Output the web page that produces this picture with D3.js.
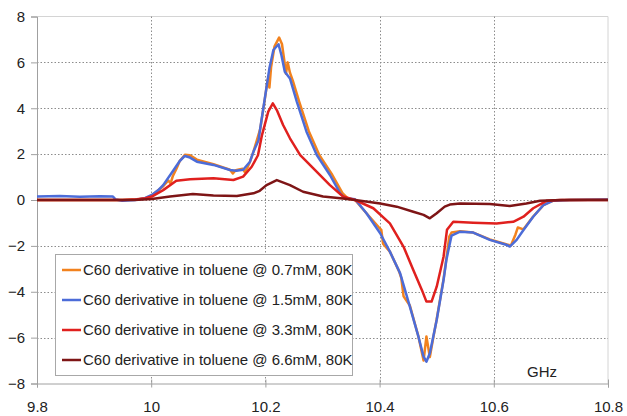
<!DOCTYPE html>
<html>
<head>
<meta charset="utf-8">
<script src="https://cdn.jsdelivr.net/npm/d3@7"></script>
<style>
  html, body { margin: 0; padding: 0; background: #fff; }
  svg { display: block; font-family: "Liberation Sans", Arial, sans-serif; }
</style>
</head>
<body>
<svg id="chart" width="627" height="416"></svg>
<script>
// Frequency (GHz) and signal readings, one [freq, value] list per sample
const freqTicks = [9.8, 10, 10.2, 10.4, 10.6, 10.8];
const valueTicks = [-8, -6, -4, -2, 0, 2, 4, 6, 8];

const seriesNames = [
  "C60 derivative in toluene @ 0.7mM, 80K",
  "C60 derivative in toluene @ 1.5mM, 80K",
  "C60 derivative in toluene @ 3.3mM, 80K",
  "C60 derivative in toluene @ 6.6mM, 80K"
];
const seriesColors = ["#F2821E", "#4C6CD8", "#E0201E", "#7E1516"];

const conc07 = [
  [9.8, 0], [9.95, 0], [9.975, 0.02], [9.99, 0.08], [10.001, 0.2], [10.021, 0.6],
  [10.030, 0.85], [10.034, 0.72], [10.038, 1.05], [10.044, 1.35], [10.050, 1.7],
  [10.059, 1.97], [10.068, 1.95], [10.080, 1.76], [10.109, 1.56], [10.138, 1.32],
  [10.143, 1.16], [10.148, 1.3], [10.160, 1.36], [10.164, 1.22], [10.168, 1.38],
  [10.173, 1.67], [10.179, 2.1], [10.191, 3.1], [10.199, 4.4], [10.204, 5.25],
  [10.207, 4.9], [10.210, 5.8], [10.216, 6.7], [10.224, 7.08], [10.229, 6.8],
  [10.233, 6.1], [10.236, 5.5], [10.239, 6.0], [10.243, 5.55], [10.248, 5.2],
  [10.259, 4.3], [10.276, 3.0], [10.294, 1.98], [10.317, 1.1], [10.335, 0.3],
  [10.345, 0.05], [10.357, 0.0], [10.377, -0.58], [10.399, -1.2], [10.403, -1.3],
  [10.406, -1.9], [10.418, -2.25], [10.434, -3.1], [10.438, -3.4], [10.442, -4.2],
  [10.453, -4.6], [10.468, -5.95], [10.477, -7.0], [10.482, -5.95], [10.488, -6.85],
  [10.494, -6.0], [10.500, -5.2], [10.512, -3.45], [10.517, -2.55], [10.522, -1.6],
  [10.526, -1.42], [10.541, -1.36], [10.564, -1.42], [10.593, -1.72], [10.623, -1.94],
  [10.630, -1.98], [10.638, -1.5], [10.642, -1.2], [10.652, -1.28], [10.669, -0.72],
  [10.687, -0.22], [10.704, -0.03], [10.733, 0.0], [10.8, 0.02]
];

const conc15 = [
  [9.8, 0.15], [9.84, 0.17], [9.875, 0.14], [9.91, 0.16], [9.933, 0.15], [9.938, 0.02],
  [9.949, -0.03], [9.972, 0.0], [9.989, 0.08], [10.001, 0.22], [10.012, 0.42],
  [10.021, 0.65], [10.039, 1.3], [10.050, 1.7], [10.059, 1.92], [10.068, 1.85],
  [10.080, 1.67], [10.109, 1.53], [10.138, 1.31], [10.149, 1.28], [10.161, 1.32],
  [10.173, 1.67], [10.179, 2.1], [10.188, 2.6], [10.191, 3.13], [10.199, 4.43],
  [10.207, 5.74], [10.214, 6.54], [10.223, 6.79], [10.228, 6.32], [10.234, 5.59],
  [10.243, 5.3], [10.255, 4.29], [10.272, 2.98], [10.290, 1.96], [10.313, 1.09],
  [10.331, 0.29], [10.339, 0.09], [10.357, 0.03], [10.377, -0.58], [10.401, -1.45],
  [10.418, -2.25], [10.436, -3.2], [10.453, -4.65], [10.468, -5.96], [10.477, -6.83],
  [10.482, -7.05], [10.488, -6.68], [10.500, -5.23], [10.512, -3.49], [10.517, -2.6],
  [10.526, -1.55], [10.541, -1.38], [10.564, -1.42], [10.593, -1.74], [10.623, -1.96],
  [10.628, -2.03], [10.640, -1.74], [10.652, -1.31], [10.669, -0.73], [10.687, -0.22],
  [10.704, -0.03], [10.733, 0.0], [10.8, 0.02]
];

const conc33 = [
  [9.8, 0], [9.95, 0], [9.975, 0.03], [9.99, 0.08], [10.001, 0.15], [10.021, 0.43],
  [10.044, 0.84], [10.068, 0.9], [10.109, 0.95], [10.144, 0.87], [10.161, 1.02],
  [10.176, 1.45], [10.187, 1.95], [10.194, 2.83], [10.205, 3.85], [10.213, 4.21],
  [10.220, 3.92], [10.231, 3.27], [10.243, 2.69], [10.261, 1.96], [10.284, 1.38],
  [10.313, 0.65], [10.336, 0.15], [10.357, 0.0], [10.389, -0.36], [10.418, -1.02],
  [10.442, -2.04], [10.459, -3.05], [10.474, -3.92], [10.482, -4.43], [10.491, -4.43],
  [10.500, -3.78], [10.512, -2.47], [10.518, -1.3], [10.529, -0.95], [10.564, -0.99],
  [10.605, -1.02], [10.634, -0.95], [10.652, -0.73], [10.669, -0.36], [10.693, -0.03],
  [10.716, 0], [10.8, 0]
];

const conc66 = [
  [9.8, 0], [9.97, 0], [10.001, 0.04], [10.033, 0.15], [10.073, 0.26], [10.109, 0.2],
  [10.150, 0.17], [10.179, 0.29], [10.190, 0.4], [10.202, 0.65], [10.220, 0.87],
  [10.243, 0.65], [10.266, 0.36], [10.301, 0.15], [10.336, 0.07], [10.357, 0.0],
  [10.401, -0.15], [10.430, -0.29], [10.459, -0.51], [10.477, -0.65], [10.488, -0.8],
  [10.500, -0.58], [10.514, -0.29], [10.523, -0.2], [10.541, -0.15], [10.593, -0.17],
  [10.628, -0.26], [10.657, -0.15], [10.681, -0.03], [10.72, 0], [10.8, 0]
];

const seriesData = [conc07, conc15, conc33, conc66];

const svg = d3.select("#chart");
const x = d3.scaleLinear().domain([9.8, 10.8]).range([37, 608]);
const y = d3.scaleLinear().domain([-8, 8]).range([383.5, 16.5]);

const gridColor = "#8c8c8c";
const axisColor = "#a0a0a0";
const fontSize = "15px";

// plot-area frame (top and right)
svg.append("line").attr("x1", x(9.8)).attr("x2", x(10.8)).attr("y1", y(8)).attr("y2", y(8))
  .attr("stroke", "#d4d4d4").attr("stroke-width", 1);
svg.append("line").attr("x1", x(10.8)).attr("x2", x(10.8)).attr("y1", y(8)).attr("y2", y(-8))
  .attr("stroke", "#d4d4d4").attr("stroke-width", 1);

// dotted gridlines
svg.append("g").selectAll("line")
  .data(valueTicks.filter(v => v > -8 && v < 8))
  .join("line")
  .attr("x1", x(9.8)).attr("x2", x(10.8))
  .attr("y1", d => Math.round(y(d)) + 0.5).attr("y2", d => Math.round(y(d)) + 0.5)
  .attr("stroke", gridColor).attr("stroke-width", 1).attr("stroke-dasharray", "1.5,2");
svg.append("g").selectAll("line")
  .data(freqTicks.filter(f => f > 9.8 && f < 10.8))
  .join("line")
  .attr("x1", d => Math.round(x(d)) + 0.5).attr("x2", d => Math.round(x(d)) + 0.5)
  .attr("y1", y(8)).attr("y2", y(-8))
  .attr("stroke", gridColor).attr("stroke-width", 1).attr("stroke-dasharray", "1.5,2");

// axes
const yAxis = d3.axisLeft(y).tickValues(valueTicks).tickSize(6).tickPadding(6)
  .tickFormat(d3.format("d"));
const yG = svg.append("g").attr("transform", "translate(37,0)").call(yAxis);
const xAxis = d3.axisBottom(x).tickValues(freqTicks).tickSize(4).tickPadding(14)
  .tickFormat(d => String(d));
const xG = svg.append("g").attr("transform", "translate(0,383.5)").call(xAxis);
xG.selectAll(".tick line").attr("y1", -4);

[yG, xG].forEach(g => {
  g.select(".domain").attr("stroke", axisColor);
  g.selectAll(".tick line").attr("stroke", axisColor);
  g.selectAll(".tick text").attr("fill", "#222").style("font-size", fontSize)
    .style("font-family", "'Liberation Sans', Arial, sans-serif");
});

// spectra
const line = d3.line().x(d => x(d[0])).y(d => y(d[1]));
svg.append("g").selectAll("path")
  .data(seriesData)
  .join("path")
  .attr("d", line)
  .attr("fill", "none")
  .attr("stroke", (d, i) => seriesColors[i])
  .attr("stroke-width", 2.5)
  .attr("stroke-linejoin", "round");

// unit label
svg.append("text").attr("x", 527).attr("y", 377).text("GHz")
  .attr("fill", "#222").style("font-size", fontSize);

// legend
const legend = svg.append("g");
legend.append("rect").attr("x", 55.5).attr("y", 254.5).attr("width", 297).attr("height", 121)
  .attr("fill", "#fff").attr("stroke", "#a8a8a8");
const items = legend.selectAll("g.item").data(seriesNames).join("g")
  .attr("class", "item")
  .attr("transform", (d, i) => `translate(0,${270 + i * 30})`);
items.append("line").attr("x1", 62).attr("x2", 81).attr("y1", 0).attr("y2", 0)
  .attr("stroke", (d, i) => seriesColors[i]).attr("stroke-width", 2.5);
items.append("text").attr("x", 83).attr("y", 5).text(d => d)
  .attr("fill", "#222").style("font-size", fontSize);
</script>
</body>
</html>
